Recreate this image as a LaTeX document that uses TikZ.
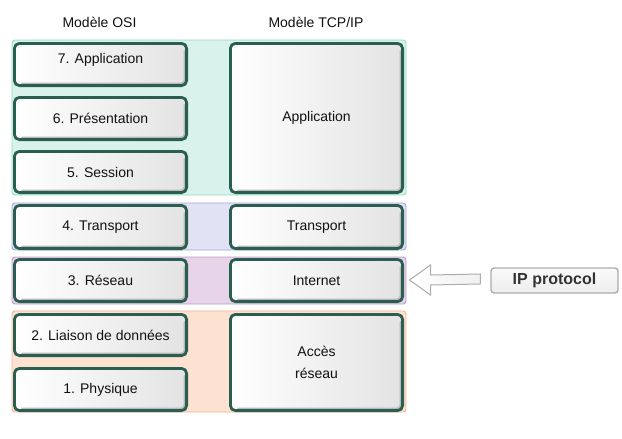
\documentclass[tikz,border=0pt]{standalone}
\usepackage{fontspec}
\setmainfont{Liberation Sans}
\usetikzlibrary{calc}
\definecolor{boxgreen}{HTML}{2A5E50}
\definecolor{bandG}{HTML}{D9F3EC}\definecolor{bandGd}{HTML}{8FDCC0}
\definecolor{bandB}{HTML}{E1E3F5}\definecolor{bandBd}{HTML}{A3A3DC}
\definecolor{bandP}{HTML}{E8D4E8}\definecolor{bandPd}{HTML}{BF9BCB}
\definecolor{bandO}{HTML}{FDE2D2}\definecolor{bandOd}{HTML}{F6B48E}
\definecolor{txt}{HTML}{111111}
\definecolor{iptxt}{HTML}{333333}
\tikzset{
  band/.style={line width=0.9pt, rounded corners=3pt},
  layer/.style={draw=boxgreen, line width=2.8pt, rounded corners=5pt,
    left color=white, right color=gray!22, inner sep=0pt,
    text=txt, font=\fontsize{14}{21.5}\selectfont, align=center,
    path picture={\draw[gray!55, line width=2.6pt, rounded corners=4pt]
      ([xshift=-1.6pt,yshift=-7pt]path picture bounding box.north east) --
      ([xshift=-1.6pt,yshift=1.6pt]path picture bounding box.south east) --
      ([xshift=7pt,yshift=1.6pt]path picture bounding box.south west);}},
  header/.style={font=\fontsize{14}{16}\selectfont, text=txt},
  ipbox/.style={draw=gray!65, line width=1.4pt, rounded corners=3pt,
    top color=gray!4, bottom color=gray!14, text=iptxt,
    font=\fontsize{16}{18}\selectfont\bfseries,
    minimum width=127pt, minimum height=25pt, inner sep=0pt},
  blockarrow/.style={draw=gray!65, line width=1pt, left color=white, right color=gray!12}
}
\newcommand\layerbox[6]{%
  \pgfmathsetmacro\lbcx{(#2+#4)/2}\pgfmathsetmacro\lbcy{(#3+#5)/2}%
  \pgfmathsetmacro\lbw{#4-#2-2.8}\pgfmathsetmacro\lbh{#5-#3-2.8}%
  \node[layer, minimum width=\lbw pt, minimum height=\lbh pt] (#1) at (\lbcx,\lbcy) {#6};}
\begin{document}
\begin{tikzpicture}[x=1pt,y=-1pt]
\useasboundingbox (0,0) rectangle (622,439);
% bands
\path[band, fill=bandG, draw=bandGd] (12,40) rectangle (406,195);
\path[band, fill=bandB, draw=bandBd] (12,203) rectangle (406,250);
\path[band, fill=bandP, draw=bandPd] (12,257) rectangle (406,304);
\path[band, fill=bandO, draw=bandOd] (12,311) rectangle (406,412);
% headers
\node[header] (hosi) at (99.5,22) {Modèle OSI};
\node[header] (htcp) at (316,22) {Modèle TCP/IP};
% OSI layers
\layerbox{n7}{13}{42}{188}{87}{\raisebox{1pt}[0pt][0pt]{7. Application}}
\layerbox{n6}{13}{96}{188}{141}{6. Présentation}
\layerbox{n5}{13}{150}{188}{194}{5. Session}
\layerbox{n4}{13}{204}{188}{250}{4. Transport}
\layerbox{n3}{13}{258}{188}{303}{3. Réseau}
\layerbox{n2}{13}{313}{188}{357}{2. Liaison de données}
\layerbox{n1}{13}{367}{188}{412}{1. Physique}
% TCP/IP layers
\layerbox{tapp}{229}{42}{404}{194}{Application}
\layerbox{ttr}{229}{204}{404}{250}{Transport}
\layerbox{tin}{229}{258}{404}{303}{Internet}
\layerbox{tacc}{229}{313}{404}{412}{Accès\\réseau}
% IP protocol
\node[ipbox] (ip) at (554.5,280.5) {IP protocol};
% block arrow from ip to Internet
\coordinate (tip) at ($(tin.east)+(5.5,-0.5)$);
\coordinate (tail) at ($(ip.west)+(-10,0)$);
\draw[blockarrow] (tip) -- ++(21,-15) -- ++(0,10) -- (tail |- 0,274) -- (tail |- 0,284)
  -- ($(tip)+(21,5)$) -- ++(0,10) -- cycle;
\end{tikzpicture}
\end{document}
